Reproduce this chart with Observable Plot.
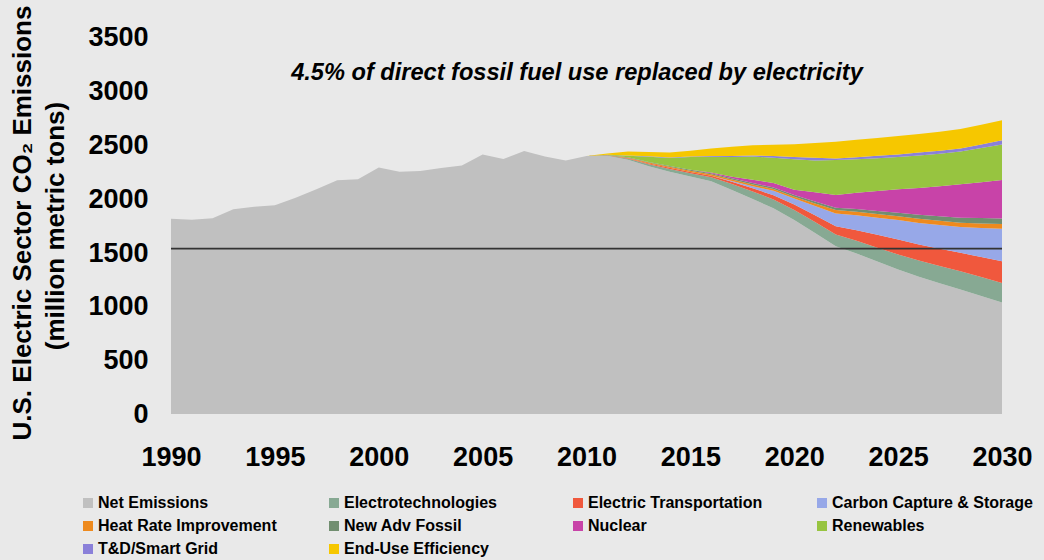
<!DOCTYPE html>
<html><head><meta charset="utf-8">
<script src="https://cdn.jsdelivr.net/npm/d3@7"></script>
<script src="https://cdn.jsdelivr.net/npm/@observablehq/plot@0.6"></script>
<style>
body{margin:0;background:#e9e9e9;font-family:"Liberation Sans",Arial,sans-serif;}
#wrap{position:relative;width:1044px;height:560px;overflow:hidden;background:#e9e9e9;}
#chart{position:absolute;left:0;top:0;}
.item{position:absolute;font-weight:bold;font-size:16px;color:#000;display:flex;align-items:center;white-space:nowrap;height:20px;line-height:20px;}
.sw{width:10px;height:10px;margin-right:5px;flex:none;}
</style></head>
<body><div id="wrap"><div id="chart"></div><div id="legend"></div></div>
<script>
// ---- data ----
const years = d3.range(1990, 2031);
const netEmissions = [1813,1803,1818,1902,1924,1937,2008,2086,2169,2179,2288,2250,2256,2284,2306,2409,2368,2442,2390,2353,
  2396,2398,2360,2300,2250,2205,2160,2080,1995,1910,1800,1680,1558,1490,1415,1341,1275,1215,1155,1095,1036];
const wedgeYears = d3.range(2010, 2031);
const electrotechnologies = [0,3,10,18,25,30,38,55,70,82,95,102,109,119,129,139,149,160,170,176,181];
const electricTransportation = [0,1,5,8,10,12,15,22,30,40,50,63,77,98,119,140,150,160,171,186,201];
const carbonCapture = [0,0,0,0,0,0,0,5,20,40,55,85,118,138,159,180,200,220,239,270,302];
const heatRate = [0,1,5,8,10,12,13,15,16,17,18,25,31,33,35,37,38,39,40,42,43];
const newAdvFossil = [0,1,3,5,7,8,10,11,13,14,15,18,22,25,28,32,37,42,47,50,53];
const nuclear = [0,0,0,0,0,0,5,15,30,42,50,85,118,150,185,217,248,279,310,333,356];
const renewables = [0,2,15,49,75,118,148,184,216,235,282,295,324,313,305,299,304,301,305,317,330];
const tdSmartGrid = [0,1,3,4,5,5,6,8,10,15,22,25,15,18,22,25,26,27,28,33,40];
const endUseEfficiency = [0,12,35,40,45,55,70,85,95,105,118,137,156,161,165,170,173,177,180,183,186];
const seriesNames = ["Net Emissions","Electrotechnologies","Electric Transportation","Carbon Capture & Storage",
  "Heat Rate Improvement","New Adv Fossil","Nuclear","Renewables","T&D/Smart Grid","End-Use Efficiency"];
const seriesColors = ["#c0c0c0","#87a993","#f0583d","#97a8e8","#ee8a1e","#718e70","#c843a8","#97c440","#8a80d9","#f6c700"];
const targetLevel = [1540];
const xTicks = [1990,1995,2000,2005,2010,2015,2020,2025,2030];
const yTicks = [0,500,1000,1500,2000,2500,3000,3500];
const annotation = ["4.5% of direct fossil fuel use replaced by electricity"];
const yTitle1 = ["U.S. Electric Sector CO₂ Emissions"];
const yTitle2 = ["(million metric tons)"];

// ---- build table ----
const rows = [];
years.forEach((yr, i) => rows.push({year: yr, series: seriesNames[0], value: netEmissions[i]}));
const wedges = [electrotechnologies, electricTransportation, carbonCapture, heatRate, newAdvFossil,
  nuclear, renewables, tdSmartGrid, endUseEfficiency];
wedges.forEach((arr, k) => wedgeYears.forEach((yr, i) => rows.push({year: yr, series: seriesNames[k + 1], value: arr[i]})));

const chart = Plot.plot({
  width: 1044, height: 480,
  marginLeft: 171, marginRight: 42, marginTop: 37, marginBottom: 66,
  style: {background: "#e9e9e9", fontFamily: "'Liberation Sans', Arial, sans-serif", color: "#000"},
  x: {domain: [1990, 2030]},
  y: {domain: [0, 3500]},
  color: {domain: seriesNames, range: seriesColors},
  marks: [
    Plot.areaY(rows, {x: "year", y: "value", z: "series", fill: "series", order: null}),
    Plot.ruleY(targetLevel, {stroke: "#333", strokeWidth: 1.6}),
    Plot.axisX({ticks: xTicks, tickFormat: d => String(d), tickSize: 0, tickPadding: 32, fontSize: 27, fontWeight: "bold", label: null}),
    Plot.axisY({ticks: yTicks, tickFormat: d => String(d), tickSize: 0, tickPadding: 23, fontSize: 27, fontWeight: "bold", label: null}),
    Plot.text(annotation, {frameAnchor: "top", dx: -10, dy: 35, lineAnchor: "middle", textAnchor: "middle", fontSize: 23.6, fontWeight: "bold", fontStyle: "italic"}),
    Plot.text(yTitle1, {frameAnchor: "left", rotate: -90, dx: -149, dy: -3, lineAnchor: "middle", textAnchor: "middle", fontSize: 26, fontWeight: "bold"}),
    Plot.text(yTitle2, {frameAnchor: "left", rotate: -90, dx: -116, dy: 0, lineAnchor: "middle", textAnchor: "middle", fontSize: 26, fontWeight: "bold"})
  ]
});
document.getElementById("chart").appendChild(chart);

// ---- legend ----
const legend = document.getElementById("legend");
const colX = [83, 329, 573, 817];
const rowY = [503, 526, 549];
seriesNames.forEach((name, i) => {
  const div = document.createElement("div");
  div.className = "item";
  div.style.left = colX[i % 4] + "px";
  div.style.top = (rowY[Math.floor(i / 4)] - 10) + "px";
  const sw = document.createElement("span");
  sw.className = "sw";
  sw.style.background = seriesColors[i];
  div.appendChild(sw);
  div.appendChild(document.createTextNode(name));
  legend.appendChild(div);
});
</script>
</body></html>
